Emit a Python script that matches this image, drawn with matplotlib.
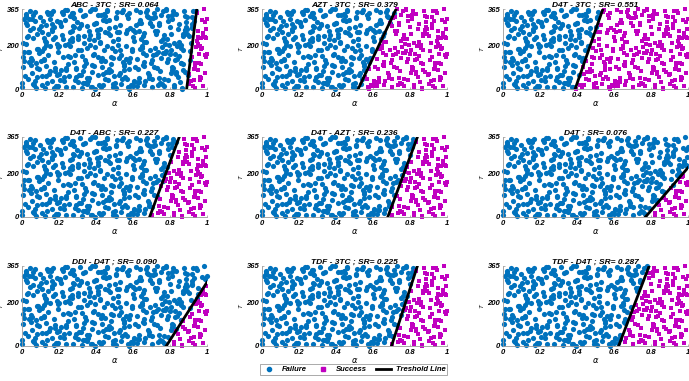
import numpy as np
import matplotlib
matplotlib.use("Agg")
import matplotlib.pyplot as plt
from matplotlib.lines import Line2D

# Sampled (alpha, T) points, shared by all panels
alpha = [
    0.008, 0.031, 0.052, 0.118, 0.127, 0.163, 0.215, 0.238, 0.301, 0.317, 0.352, 0.409, 0.428, 0.441, 0.497, 0.561, 0.583, 0.602, 0.671, 0.694, 0.712, 0.768, 0.779, 0.803, 0.861, 0.889, 0.912, 0.944, 0.957, 0.992,
    0.021, 0.079, 0.094, 0.108, 0.174, 0.187, 0.229, 0.274, 0.283, 0.336, 0.381, 0.397, 0.455, 0.468, 0.512, 0.527, 0.548, 0.626, 0.643, 0.655, 0.703, 0.736, 0.791, 0.812, 0.826, 0.872, 0.898, 0.931, 0.968, 0.981,
    0.004, 0.043, 0.061, 0.137, 0.149, 0.198, 0.204, 0.252, 0.268, 0.324, 0.343, 0.371, 0.419, 0.482, 0.491, 0.539, 0.571, 0.597, 0.611, 0.662, 0.728, 0.747, 0.759, 0.836, 0.851, 0.883, 0.905, 0.923, 0.974, 0.999,
    0.016, 0.037, 0.088, 0.102, 0.141, 0.171, 0.222, 0.247, 0.291, 0.309, 0.359, 0.388, 0.402, 0.437, 0.461, 0.518, 0.554, 0.589, 0.634, 0.648, 0.686, 0.719, 0.753, 0.798, 0.819, 0.847, 0.876, 0.936, 0.949, 0.988,
    0.029, 0.056, 0.071, 0.124, 0.158, 0.181, 0.193, 0.261, 0.278, 0.297, 0.348, 0.366, 0.413, 0.451, 0.474, 0.502, 0.536, 0.618, 0.627, 0.677, 0.691, 0.742, 0.764, 0.784, 0.809, 0.867, 0.894, 0.917, 0.961, 0.977,
    0.011, 0.064, 0.083, 0.113, 0.132, 0.208, 0.219, 0.241, 0.286, 0.331, 0.354, 0.393, 0.424, 0.448, 0.509, 0.522, 0.567, 0.593, 0.606, 0.653, 0.712, 0.731, 0.772, 0.787, 0.843, 0.858, 0.909, 0.927, 0.952, 0.995,
    0.002, 0.024, 0.091, 0.106, 0.167, 0.176, 0.193, 0.257, 0.273, 0.318, 0.337, 0.381, 0.406, 0.467, 0.484, 0.513, 0.546, 0.577, 0.641, 0.668, 0.683, 0.724, 0.749, 0.808, 0.823, 0.871, 0.886, 0.941, 0.966, 0.983,
    0.019, 0.048, 0.059, 0.132, 0.151, 0.187, 0.231, 0.249, 0.283, 0.302, 0.368, 0.377, 0.433, 0.441, 0.492, 0.531, 0.558, 0.603, 0.622, 0.674, 0.703, 0.717, 0.766, 0.794, 0.817, 0.861, 0.902, 0.918, 0.957, 0.991,
    0.007, 0.034, 0.077, 0.098, 0.143, 0.163, 0.212, 0.226, 0.262, 0.314, 0.341, 0.398, 0.416, 0.458, 0.479, 0.527, 0.541, 0.584, 0.631, 0.659, 0.697, 0.738, 0.756, 0.803, 0.833, 0.879, 0.893, 0.933, 0.972, 0.998,
    0.025, 0.053, 0.069, 0.119, 0.136, 0.171, 0.203, 0.268, 0.291, 0.327, 0.362, 0.383, 0.428, 0.447, 0.503, 0.517, 0.572, 0.598, 0.614, 0.661, 0.687, 0.709, 0.776, 0.789, 0.842, 0.856, 0.913, 0.928, 0.946, 0.979,
    0.013, 0.039, 0.081, 0.109, 0.156, 0.184, 0.197, 0.237, 0.276, 0.303, 0.349, 0.393, 0.411, 0.453, 0.472, 0.533, 0.562, 0.581, 0.647, 0.664, 0.692, 0.746, 0.761, 0.783, 0.828, 0.864, 0.881, 0.937, 0.962, 0.988,
    0.000, 0.045, 0.074, 0.128, 0.147, 0.162, 0.216, 0.259, 0.288, 0.321, 0.334, 0.387, 0.426, 0.464, 0.494, 0.508, 0.553, 0.608, 0.637, 0.652, 0.723, 0.733, 0.771, 0.814, 0.834, 0.869, 0.897, 0.921, 0.968, 0.993,
    0.07, 0.93, 0.35, 0.61, 0.18, 0.79, 0.44, 0.02, 0.66, 0.27, 0.88, 0.53, 0.12, 0.71, 0.39, 0.97, 0.24, 0.58, 0.84, 0.05, 0.47, 0.31, 0.75, 0.15, 0.63, 0.91, 0.21, 0.56, 0.37, 0.81,
    0.52, 0.14, 0.86, 0.29, 0.69, 0.03, 0.41, 0.77, 0.23, 0.95, 0.58, 0.10, 0.64, 0.33, 0.89, 0.48, 0.19, 0.73, 0.06, 0.55, 0.98, 0.26, 0.83, 0.44, 0.12, 0.67, 0.36, 0.92, 0.50, 0.17,
    0.34, 0.72, 0.09, 0.57, 0.96, 0.22, 0.46, 0.81, 0.13, 0.63, 0.38, 0.87, 0.01, 0.51, 0.28, 0.76, 0.42, 0.94, 0.16, 0.60, 0.85, 0.32, 0.70, 0.08, 0.54, 0.25, 0.90, 0.45, 0.68, 0.20,
    0.87, 0.41, 0.04, 0.66, 0.30, 0.78, 0.19, 0.53, 0.99, 0.36, 0.11, 0.74, 0.47, 0.27, 0.92, 0.62, 0.15, 0.82, 0.43, 0.06, 0.57, 0.33, 0.95, 0.70, 0.23, 0.49, 0.80, 0.13, 0.64, 0.39,
]
T = [
    212, 47, 318, 139, 5, 263, 351, 88, 176, 294, 23, 237, 129, 340, 61, 198, 279, 14, 155, 326, 102, 248, 359, 71, 186, 305, 37, 221, 117, 272,
    331, 96, 164, 17, 283, 205, 54, 347, 122, 241, 8, 193, 312, 76, 259, 143, 362, 31, 227, 109, 288, 170, 43, 336, 131, 251, 66, 309, 181, 12,
    145, 268, 22, 353, 84, 196, 301, 59, 233, 150, 338, 7, 274, 113, 218, 45, 323, 172, 99, 257, 364, 28, 190, 137, 297, 79, 244, 15, 316, 161,
    58, 321, 183, 126, 249, 3, 343, 207, 92, 277, 35, 160, 299, 69, 356, 230, 115, 19, 266, 188, 52, 330, 141, 285, 10, 214, 357, 104, 239, 73,
    290, 134, 36, 220, 348, 81, 169, 262, 11, 307, 119, 200, 63, 335, 246, 26, 157, 292, 93, 361, 178, 49, 226, 121, 320, 3, 273, 148, 39, 255,
    167, 20, 253, 311, 106, 42, 229, 360, 154, 82, 289, 1, 213, 128, 326, 64, 271, 184, 30, 241, 345, 97, 165, 310, 55, 202, 133, 357, 87, 233,
    27, 299, 90, 174, 356, 238, 13, 146, 328, 65, 209, 108, 270, 41, 186, 350, 125, 2, 301, 216, 72, 159, 339, 250, 18, 114, 282, 192, 51, 363,
    343, 111, 232, 61, 197, 9, 314, 152, 283, 33, 245, 363, 100, 176, 24, 292, 57, 220, 135, 331, 7, 264, 44, 203, 355, 120, 69, 296, 161, 236,
    101, 243, 6, 328, 153, 275, 85, 38, 224, 362, 131, 302, 17, 194, 80, 260, 350, 142, 51, 215, 117, 294, 23, 180, 68, 335, 249, 4, 187, 318,
    236, 72, 352, 187, 29, 124, 307, 218, 94, 3, 265, 156, 336, 46, 281, 199, 11, 239, 360, 106, 63, 322, 173, 137, 276, 31, 211, 91, 345, 14,
    319, 169, 56, 262, 340, 13, 191, 98, 287, 230, 48, 364, 147, 79, 313, 24, 255, 122, 195, 36, 299, 81, 358, 226, 158, 2, 268, 119, 196, 304,
    10, 358, 118, 201, 67, 296, 247, 335, 40, 178, 103, 222, 8, 256, 140, 329, 86, 35, 313, 162, 252, 19, 207, 95, 341, 180, 62, 280, 231, 146,
    312, 41, 187, 258, 96, 333, 17, 205, 124, 349, 268, 71, 233, 157, 297, 112, 8, 346, 196, 143, 277, 62, 219, 321, 33, 174, 289, 137, 356, 88,
    228, 341, 118, 54, 303, 167, 251, 12, 359, 206, 92, 287, 181, 29, 327, 146, 64, 263, 338, 104, 245, 195, 76, 315, 134, 353, 48, 284, 173, 226,
    26, 189, 274, 339, 57, 148, 362, 101, 215, 301, 79, 241, 128, 5, 323, 163, 211, 355, 38, 270, 152, 297, 44, 183, 350, 116, 22, 259, 330, 68,
    86, 336, 121, 20, 243, 364, 311, 178, 155, 228, 58, 301, 93, 266, 329, 14, 347, 210, 141, 278, 46, 334, 265, 132, 200, 9, 160, 290, 352, 107,
]

# Panels: title and threshold line (alpha at T=0, end point)
titles = ["ABC - 3TC ; SR= 0.064", "AZT - 3TC ; SR= 0.379", "D4T - 3TC ; SR= 0.551",
          "D4T - ABC ; SR= 0.227", "D4T - AZT ; SR= 0.236", "D4T ; SR= 0.076",
          "DDI - D4T ; SR= 0.090", "TDF - 3TC ; SR= 0.225", "TDF - D4T ; SR= 0.287"]
line_a0 = [0.89, 0.52, 0.39, 0.69, 0.68, 0.77, 0.78, 0.70, 0.625]
line_a1 = [0.945, 0.725, 0.54, 0.85, 0.84, 1.0, 1.0, 0.84, 0.79]
line_t1 = [365, 365, 365, 365, 365, 225, 291, 365, 365]

x_ticks = [0, 0.2, 0.4, 0.6, 0.8, 1]
x_ticklabels = ["0", "0.2", "0.4", "0.6", "0.8", "1"]
y_ticks = [0, 200, 365]

blue = "#0072BD"
magenta = "#C000C0"
plt.rcParams['font.family'] = ['Liberation Sans', 'DejaVu Sans']

a = np.array(alpha)
t = np.array(T)

fig = plt.figure(figsize=(6.89, 3.81), dpi=100)
W, H = 689, 381
lefts = [22, 262, 503]
tops = [9, 137, 266]
aw, ah = 185, 80

for i in range(9):
    r, c = divmod(i, 3)
    ax = fig.add_axes([lefts[c] / W, 1 - (tops[r] + ah) / H, aw / W, ah / H])
    # threshold: success to the right of the line
    a_line = line_a0[i] + (line_a1[i] - line_a0[i]) * t / line_t1[i]
    succ = a > a_line
    ax.scatter(a[~succ], t[~succ], s=14, marker='o', color=blue,
               linewidths=0, clip_on=False, zorder=2)
    ax.scatter(a[succ], t[succ], s=10, marker='s', color=magenta,
               linewidths=0, clip_on=False, zorder=2)
    ax.plot([line_a0[i], line_a1[i]], [0, line_t1[i]], color='black',
            lw=2, zorder=3)
    ax.set_xlim(0, 1)
    ax.set_ylim(0, 365)
    ax.set_xticks(x_ticks)
    ax.set_xticklabels(x_ticklabels)
    ax.set_yticks(y_ticks)
    for s in ['top', 'right']:
        ax.spines[s].set_visible(False)
    for s in ['left', 'bottom']:
        ax.spines[s].set_color('#999999')
        ax.spines[s].set_linewidth(0.6)
    ax.tick_params(length=1.5, direction='in', width=0.5, color='#999999',
                   labelsize=5.5, pad=2)
    for lab in ax.get_xticklabels() + ax.get_yticklabels():
        lab.set_fontweight('bold')
        lab.set_fontstyle('italic')
    ax.set_title(titles[i], fontsize=6, fontweight='bold', style='italic',
                 pad=1.5)
    ax.set_xlabel(r'$\alpha$', fontsize=6, labelpad=0.5)
    ax.set_ylabel('T', fontsize=4.5, style='italic', labelpad=2)

handles = [
    Line2D([], [], marker='o', color=blue, ls='none', markersize=3),
    Line2D([], [], marker='s', color=magenta, ls='none', markersize=2.5),
    Line2D([], [], color='black', lw=2),
]
leg = fig.legend(handles, ['Failure', 'Success', 'Treshold Line'], ncol=3,
                 loc='lower center', bbox_to_anchor=(0.513, 0.005),
                 fancybox=False, edgecolor='#888888', framealpha=1,
                 handlelength=2, handletextpad=0.6, columnspacing=1.2,
                 borderpad=0.25,
                 prop={'size': 5.5, 'weight': 'bold', 'style': 'italic'})
leg.get_frame().set_linewidth(0.5)

fig.savefig("out.png", dpi=100)
